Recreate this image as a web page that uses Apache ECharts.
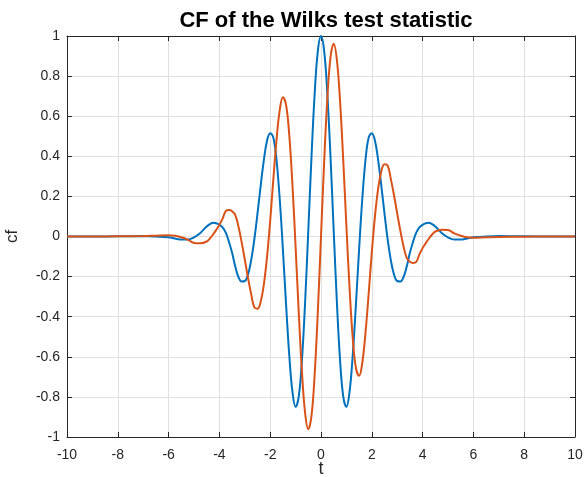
<!DOCTYPE html>
<html lang="en">
<head>
    <meta charset="UTF-8">
    <title>CF of the Wilks test statistic</title>
    <style>
        html, body { margin: 0; padding: 0; background: #fff; }
        #main { width: 585px; height: 477px; }
    </style>
</head>
<body>
    <div id="main"></div>
    <script src="https://cdn.jsdelivr.net/npm/echarts@6/dist/echarts.min.js"></script>
    <script>
        // t values (shared by both curves)
        var tVals = [-10, -9, -8, -7, -6.5, -6, -5.75, -5.5, -5.25, -5, -4.75, -4.5, -4.375, -4.25, -4.125, -4, -3.875, -3.75, -3.625, -3.5, -3.375, -3.25, -3.125, -3,
            -2.875, -2.75, -2.625, -2.5, -2.375, -2.25, -2.125, -2, -1.875, -1.75, -1.625, -1.5, -1.375, -1.25, -1.125, -1, -0.875, -0.75, -0.625, -0.5, -0.375, -0.25, -0.125,
            0, 0.125, 0.25, 0.375, 0.5, 0.625, 0.75, 0.875, 1, 1.125, 1.25, 1.375, 1.5, 1.625, 1.75, 1.875, 2, 2.125, 2.25, 2.375, 2.5, 2.625, 2.75, 2.875,
            3, 3.125, 3.25, 3.375, 3.5, 3.625, 3.75, 3.875, 4, 4.125, 4.25, 4.375, 4.5, 4.75, 5, 5.25, 5.5, 5.75, 6, 6.5, 7, 8, 9, 10];
        // real part (blue)
        var realPart = [0, 0, 0.001, 0.002, 0, -0.004, -0.010, -0.015, -0.015, -0.004, 0.018, 0.050, 0.062, 0.068, 0.066, 0.058, 0.045, 0.019, -0.026, -0.081, -0.150, -0.202, -0.224, -0.222,
            -0.19, -0.119, -0.015, 0.114, 0.253, 0.381, 0.478, 0.515, 0.493, 0.379, 0.187, -0.064, -0.340, -0.591, -0.774, -0.850, -0.797, -0.616, -0.326, 0.030, 0.395, 0.711, 0.925,
            1, 0.925, 0.711, 0.395, 0.030, -0.326, -0.616, -0.797, -0.850, -0.774, -0.591, -0.340, -0.064, 0.187, 0.379, 0.493, 0.515, 0.478, 0.381, 0.253, 0.114, -0.015, -0.119, -0.19,
            -0.222, -0.224, -0.202, -0.150, -0.081, -0.026, 0.019, 0.045, 0.058, 0.066, 0.068, 0.062, 0.050, 0.018, -0.004, -0.015, -0.015, -0.010, -0.004, 0, 0.002, 0.001, 0, 0];
        // imaginary part (orange)
        var imagPart = [0, 0, 0.001, 0.002, 0.004, 0.006, 0.004, -0.004, -0.016, -0.032, -0.034, -0.025, -0.010, 0.010, 0.033, 0.058, 0.089, 0.127, 0.132, 0.126, 0.107, 0.050, -0.028, -0.115,
            -0.206, -0.286, -0.354, -0.360, -0.326, -0.239, -0.102, 0.079, 0.288, 0.483, 0.630, 0.695, 0.656, 0.507, 0.259, -0.052, -0.382, -0.675, -0.881, -0.961, -0.895, -0.689, -0.375,
            0, 0.375, 0.689, 0.895, 0.961, 0.881, 0.675, 0.382, 0.052, -0.259, -0.507, -0.656, -0.695, -0.630, -0.483, -0.288, -0.079, 0.102, 0.239, 0.326, 0.360, 0.354, 0.286, 0.206,
            0.115, 0.028, -0.050, -0.107, -0.126, -0.132, -0.127, -0.089, -0.058, -0.033, -0.010, 0.010, 0.025, 0.034, 0.032, 0.016, 0.004, -0.004, -0.006, -0.004, -0.002, -0.001, 0, 0];

        function pairs(ys) {
            return tVals.map(function (t, i) { return [t, ys[i]]; });
        }

        var axisCol = '#262626';
        var gridCol = '#e0e0e0';
        var font = 'Liberation Sans, Arial, sans-serif';

        var mychart = echarts.init(document.getElementById('main'));
        var option = {
            animation: false,
            title: {
                text: 'CF of the Wilks test statistic',
                left: 321, top: 5, textAlign: 'center',
                textStyle: { fontFamily: font, fontSize: 22, fontWeight: 'bold', color: '#000' }
            },
            grid: { left: 67, right: 10, top: 36, bottom: 40, outerBoundsMode: 'none' },
            xAxis: [{
                type: 'value', min: -10, max: 10, interval: 2,
                name: 't', nameLocation: 'middle', nameGap: 23, nameMoveOverlap: false,
                nameTextStyle: { fontFamily: font, fontSize: 18, color: axisCol },
                axisLine: { onZero: false, lineStyle: { color: axisCol, width: 1 } },
                axisTick: { inside: true, length: 5, lineStyle: { color: axisCol } },
                axisLabel: { fontFamily: font, fontSize: 14, color: axisCol, margin: 11 },
                splitLine: { show: true, lineStyle: { color: gridCol, width: 1 } }
            }, {
                type: 'value', position: 'top', min: -10, max: 10, interval: 2,
                axisLine: { onZero: false, lineStyle: { color: axisCol, width: 1 } },
                axisTick: { inside: true, length: 5, lineStyle: { color: axisCol } },
                axisLabel: { show: false },
                splitLine: { show: false }
            }],
            yAxis: [{
                type: 'value', min: -1, max: 1, interval: 0.2,
                name: 'cf', nameLocation: 'middle', nameGap: 46, nameRotate: 90, nameMoveOverlap: false,
                nameTextStyle: { fontFamily: font, fontSize: 17, color: axisCol },
                axisLine: { show: true, onZero: false, lineStyle: { color: axisCol, width: 1 } },
                axisTick: { show: true, inside: true, length: 5, lineStyle: { color: axisCol } },
                axisLabel: { fontFamily: font, fontSize: 14, color: axisCol, margin: 7 },
                splitLine: { show: true, lineStyle: { color: gridCol, width: 1 } }
            }, {
                type: 'value', position: 'right', min: -1, max: 1, interval: 0.2,
                axisLine: { show: true, onZero: false, lineStyle: { color: axisCol, width: 1 } },
                axisTick: { show: true, inside: true, length: 5, lineStyle: { color: axisCol } },
                axisLabel: { show: false },
                splitLine: { show: false }
            }],
            series: [{
                name: 'real', type: 'line', data: pairs(realPart),
                smooth: 0.4, symbol: 'none',
                lineStyle: { color: '#0072BD', width: 2 }
            }, {
                name: 'imag', type: 'line', data: pairs(imagPart),
                smooth: 0.4, symbol: 'none',
                lineStyle: { color: '#D95319', width: 2 }
            }]
        };
        option && mychart.setOption(option);
    </script>
</body>
</html>
